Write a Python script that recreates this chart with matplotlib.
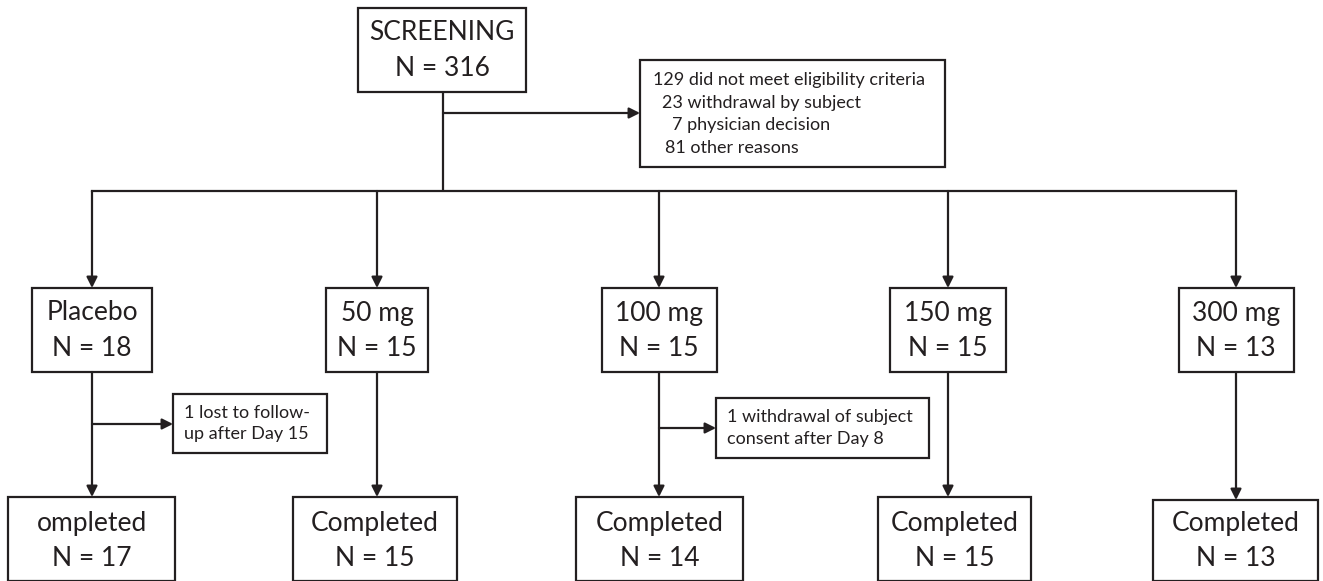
import matplotlib.pyplot as plt
from matplotlib.patches import Rectangle

plt.rcParams['font.family'] = ['Lato', 'DejaVu Sans']

# flowchart contents
screen_label = "SCREENING"
screen_n = 316
excluded_lines = ["129 did not meet eligibility criteria",
                  "23 withdrawal by subject",
                  "7 physician decision",
                  "81 other reasons"]
groups = ["Placebo", "50 mg", "100 mg", "150 mg", "300 mg"]
group_n = [18, 15, 15, 15, 13]
completed_label = ["ompleted", "Completed", "Completed", "Completed", "Completed"]
completed_n = [17, 15, 14, 15, 13]
dropout_text = {0: ["1 lost to follow-", "up after Day 15"],
                2: ["1 withdrawal of subject", "consent after Day 8"]}

# layout in pixels
col_x = [92, 377, 659, 948, 1236]
grp_w = [120, 102, 115, 116, 115]
comp_box = [(8, 175), (293, 457), (576, 743), (878, 1031), (1153, 1318)]
drop_box = {0: (173, 327, 394, 453, 424), 2: (716, 929, 398, 458, 428)}
excl_x = [653, 662, 672, 665]

col = '#231f20'
lw = 1.6
big = 19
small = 13

fig = plt.figure(figsize=(13.23, 5.81), dpi=100)
ax = fig.add_axes([0, 0, 1, 1])
ax.set_xlim(0, 1323)
ax.set_ylim(581, 0)
ax.axis('off')


def box(x0, x1, y0, y1):
    ax.add_patch(Rectangle((x0, y0), x1 - x0, y1 - y0, fill=False,
                           edgecolor=col, linewidth=lw))


def arrow(x0, y0, x1, y1):
    ax.annotate('', xy=(x1, y1), xytext=(x0, y0),
                arrowprops=dict(arrowstyle='-|>', color=col, lw=lw,
                                mutation_scale=16, shrinkA=0, shrinkB=0))


# screening
box(358, 526, 8, 92)
ax.text(442, 33, screen_label, ha='center', va='center', fontsize=big, color=col)
ax.text(442, 68, f"N = {screen_n}", ha='center', va='center', fontsize=big, color=col)

# excluded
box(640, 945, 60, 167)
for i, line in enumerate(excluded_lines):
    ax.text(excl_x[i], 80 + i * 22.6, line, ha='left', va='center', fontsize=small, color=col)
ax.plot([443, 443], [92, 191], color=col, lw=lw, solid_capstyle='butt')
arrow(443, 113, 640, 113)

# horizontal distribution line
ax.plot([col_x[0], col_x[-1]], [191, 191], color=col, lw=lw, solid_capstyle='projecting')

for i, g in enumerate(groups):
    cx = col_x[i]
    arrow(cx, 191, cx, 288)
    w = grp_w[i]
    box(cx - w / 2, cx + w / 2, 288, 372)
    ax.text(cx, 313, g, ha='center', va='center', fontsize=big, color=col)
    ax.text(cx, 348, f"N = {group_n[i]}", ha='center', va='center', fontsize=big, color=col)

    cx0, cx1 = comp_box[i]
    top = 497 if i != 4 else 500
    box(cx0, cx1, top, 581)
    arrow(cx, 372, cx, top)
    mid = (cx0 + cx1) / 2
    ax.text(mid, 523, completed_label[i], ha='center', va='center', fontsize=big, color=col)
    ax.text(mid, 558, f"N = {completed_n[i]}", ha='center', va='center', fontsize=big, color=col)

    if i in dropout_text:
        x0, x1, y0, y1, ya = drop_box[i]
        box(x0, x1, y0, y1)
        arrow(cx, ya, x0, ya)
        for j, line in enumerate(dropout_text[i]):
            ax.text(x0 + 11, (y0 + y1) / 2 - 11 + j * 22, line, ha='left', va='center',
                    fontsize=small, color=col)

fig.savefig('out.png', dpi=100)
